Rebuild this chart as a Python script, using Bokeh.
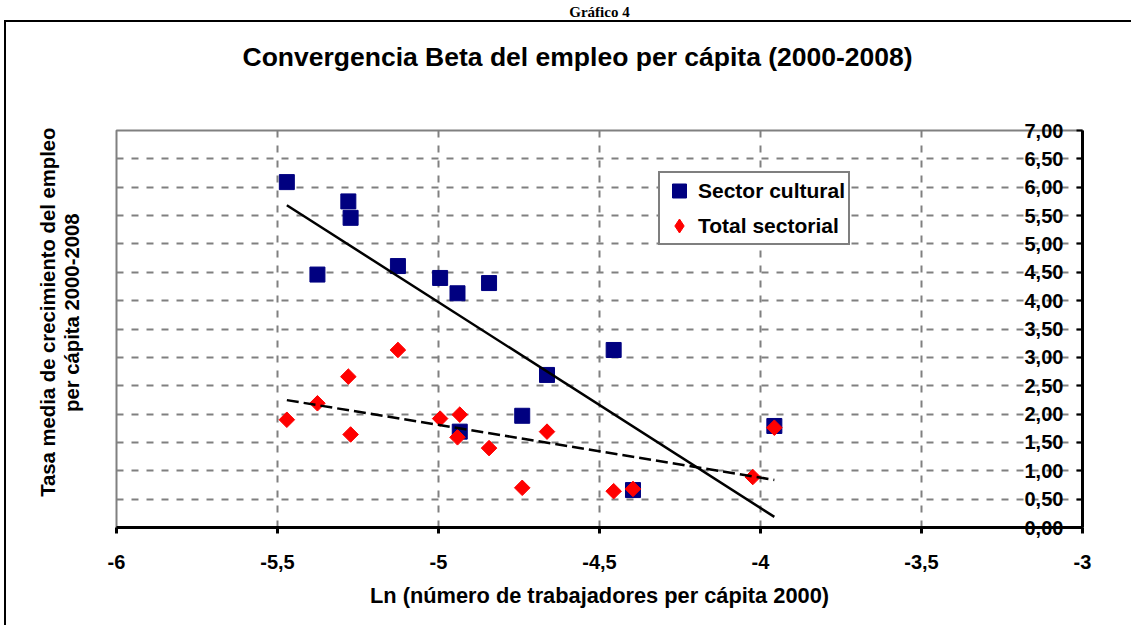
import numpy as np
from bokeh.plotting import figure
from bokeh.models import FixedTicker, Legend, LegendItem, Title, LinearAxis
from bokeh.embed import file_html
from bokeh.resources import INLINE

# ---------------- data ----------------
ln_trabajadores_2000 = [-5.471, -5.376, -5.280, -5.273, -5.126, -4.995, -4.941, -4.934,
                        -4.843, -4.740, -4.663, -4.456, -4.396, -4.024, -3.957]
tasa_sector_cultural = [6.09, 4.46, 5.75, 5.46, 4.61, 4.40, 4.13, 1.69,
                        4.31, 1.97, 2.69, 3.13, 0.66, -0.71, 1.79]
tasa_total_sectorial = [1.90, 2.19, 2.66, 1.64, 3.13, 1.92, 1.59, 1.99,
                        1.40, 0.70, 1.69, 0.64, 0.68, 0.89, 1.76]
series_names = ["Sector cultural", "Total sectorial"]
x_ticks = [-6, -5.5, -5, -4.5, -4, -3.5, -3]
x_tick_labels = ["-6", "-5,5", "-5", "-4,5", "-4", "-3,5", "-3"]
y_ticks = [0.0, 0.5, 1.0, 1.5, 2.0, 2.5, 3.0, 3.5, 4.0, 4.5, 5.0, 5.5, 6.0, 6.5, 7.0]
y_tick_labels = ["0,00", "0,50", "1,00", "1,50", "2,00", "2,50", "3,00", "3,50",
                 "4,00", "4,50", "5,00", "5,50", "6,00", "6,50", "7,00"]
title_text = "Convergencia Beta del empleo per cápita (2000-2008)"
caption_text = "Gráfico 4"
x_title = "Ln (número de trabajadores per cápita 2000)"
y_title_lines = ["Tasa media de crecimiento del empleo", "per cápita 2000-2008"]

# ---------------- layout ----------------
W, H = 1131, 625
FL, FT, FW, FH = 116, 130, 966, 397
FONT = "Liberation Sans"
X_LO, X_HI = x_ticks[0], x_ticks[-1]
X_MID = x_ticks[len(x_ticks) // 2]

p = figure(width=W, height=H, x_range=(X_LO, X_HI),
           y_range=(y_ticks[0], y_ticks[-1]),
           output_backend="svg", toolbar_location=None, y_axis_location="right",
           min_border_left=FL, min_border_top=FT,
           min_border_right=W - FL - FW, min_border_bottom=H - FT - FH,
           background_fill_color="white", border_fill_color="white")
p.title.text = ""

p.outline_line_color = "#808080"
p.outline_line_width = 2

# outer chart border (drawn over the canvas with CSS)
p.stylesheets = [":host::after { content: ''; position: absolute; left: 4px; top: 20px; "
                 "right: 0px; bottom: 0px; border-left: 2px solid black; "
                 "border-top: 2px solid black; pointer-events: none; z-index: 100; }"]

# grid
for g, t in ((p.xgrid, x_ticks), (p.ygrid, y_ticks)):
    g.ticker = FixedTicker(ticks=t)
    g.grid_line_color = "#808080"
    g.grid_line_width = 2
    g.grid_line_dash = "7 8"

# x axis
xa = p.xaxis[0]
xa.ticker = FixedTicker(ticks=x_ticks)
xa.major_label_overrides = {t: l for t, l in zip(x_ticks, x_tick_labels)}
xa.axis_line_width = 3
xa.axis_line_color = "black"
xa.major_tick_line_width = 3
xa.major_tick_in = 0
xa.major_tick_out = 6
xa.minor_tick_line_color = None
xa.major_label_standoff = 21
xa.major_label_text_font = FONT
xa.major_label_text_font_style = "bold"
xa.major_label_text_font_size = "20px"
xa.major_label_text_color = "black"
xa.axis_label = x_title
xa.axis_label_standoff = 11
xa.axis_label_text_font = FONT
xa.axis_label_text_font_style = "bold"
xa.axis_label_text_font_size = "21.8px"
xa.axis_label_text_color = "black"

# y axis (on the right, labels drawn inside)
ya = p.yaxis[0]
ya.ticker = FixedTicker(ticks=y_ticks)
ya.major_label_overrides = {t: l for t, l in zip(y_ticks, y_tick_labels)}
ya.axis_line_width = 3
ya.axis_line_color = "black"
ya.major_tick_line_width = 2
ya.major_tick_in = 6
ya.major_tick_out = 0
ya.minor_tick_line_color = None
ya.major_label_standoff = -58
ya.major_label_text_font = FONT
ya.major_label_text_font_style = "bold"
ya.major_label_text_font_size = "20px"
ya.major_label_text_color = "black"

# space above the frame: an invisible spacer axis (one hidden tick of fixed length),
# then the main title, then an axis that only carries the caption
spacer = LinearAxis(ticker=FixedTicker(ticks=[X_MID]), axis_line_color=None,
                    major_tick_line_color=None, minor_tick_line_color=None,
                    major_tick_in=0, major_tick_out=59, minor_tick_in=0, minor_tick_out=0,
                    major_label_standoff=0, major_label_overrides={X_MID: ""},
                    major_label_text_font_size="1px", major_label_text_alpha=0)
p.add_layout(spacer, "above")
p.add_layout(Title(text=title_text, align="left", offset=126, standoff=0,
                   text_font=FONT, text_font_style="bold", text_font_size="26.5px",
                   text_color="black"), "above")
cap_axis = LinearAxis(ticker=FixedTicker(ticks=[]), axis_line_color=None,
                      major_tick_line_color=None, minor_tick_line_color=None,
                      major_tick_in=0, major_tick_out=0, minor_tick_in=0, minor_tick_out=0,
                      major_label_standoff=0, axis_label=caption_text, axis_label_standoff=20,
                      axis_label_text_font="Liberation Serif",
                      axis_label_text_font_style="bold", axis_label_text_font_size="15px",
                      axis_label_text_color="black")
p.add_layout(cap_axis, "above")

# markers
r_cult = p.scatter(ln_trabajadores_2000, tasa_sector_cultural, marker="square", size=15,
                   fill_color="#000080", line_color="#000080")
r_tot = p.scatter(ln_trabajadores_2000, tasa_total_sectorial, marker="square", angle=np.pi / 4,
                  size=11, fill_color="#FF0000", line_color="#FF0000")
# legend swatch for the diamonds (a single undrawn NaN point)
r_tot_key = p.scatter(x=[np.nan], y=[np.nan], marker="diamond",
                      fill_color="#FF0000", line_color="#FF0000")

# linear trend lines (least squares on the data)
xs = np.array(ln_trabajadores_2000)
x_ends = np.array([xs.min(), xs.max()])
for ys, dash in ((tasa_sector_cultural, "solid"), (tasa_total_sectorial, "12 5")):
    m, b = np.polyfit(xs, np.array(ys), 1)
    p.line(x_ends, m * x_ends + b, line_color="black", line_width=2.5, line_dash=dash)

# legend
legend = Legend(items=[LegendItem(label=series_names[0], renderers=[r_cult]),
                       LegendItem(label=series_names[1], renderers=[r_tot_key])],
                location=(542, 282), orientation="vertical",
                glyph_width=38, glyph_height=35, label_height=35, label_width=150,
                label_standoff=0, spacing=0, padding=0, margin=0,
                border_line_color="black", border_line_width=2,
                background_fill_color="white", background_fill_alpha=1,
                label_text_font=FONT, label_text_font_style="bold",
                label_text_font_size="21px", label_text_color="black")
p.add_layout(legend, "center")

# y title: two lines on the left (nearest the frame first)
p.add_layout(Title(text=y_title_lines[1], align="right", offset=83, standoff=68,
                   text_font=FONT, text_font_style="bold", text_font_size="20.3px",
                   text_color="black"), "left")
p.add_layout(Title(text=y_title_lines[0], align="right", offset=-3, standoff=-69,
                   text_font=FONT, text_font_style="bold", text_font_size="20.3px",
                   text_color="black"), "left")

open("out.html", "w").write(file_html(p, INLINE))
